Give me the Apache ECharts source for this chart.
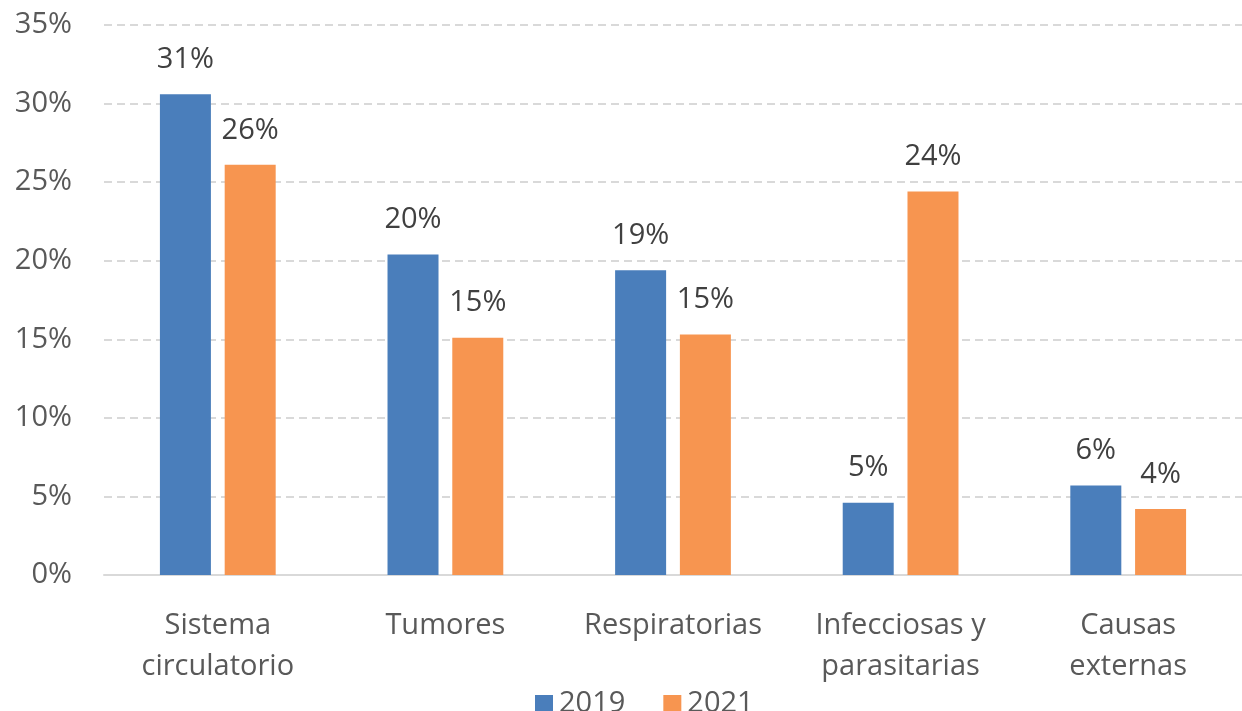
<!DOCTYPE html>
<html><head><meta charset="utf-8">
<script src="https://cdn.jsdelivr.net/npm/echarts@6/dist/echarts.min.js"></script>
<style>html,body{margin:0;padding:0;background:#fff}#c{width:1242px;height:711px}</style>
</head><body><div id="c"></div>
<script>
const categories = ['Sistema\ncirculatorio', 'Tumores', 'Respiratorias', 'Infecciosas y\nparasitarias', 'Causas\nexternas'];
const series2019 = [30.6, 20.4, 19.4, 4.6, 5.7];
const series2021 = [26.1, 15.1, 15.3, 24.4, 4.2];
const yTicks = [0, 5, 10, 15, 20, 25, 30, 35];
const FONT = '"Open Sans", "Noto Sans", sans-serif';
const chart = echarts.init(document.getElementById('c'));
const lbl = {show: true, position: 'top', distance: 20, fontSize: 29, color: '#404040', fontFamily: FONT,
  formatter: p => Math.round(p.value) + '%'};
chart.setOption({
  animation: false,
  grid: {left: 104, right: 0, top: 25, bottom: 136},
  legend: {top: 684, left: 530, itemWidth: 18, itemHeight: 17, itemGap: 38, icon: 'rect',
    textStyle: {fontSize: 29, color: '#595959', fontFamily: FONT, padding: [0, 0, 0, 1]},
    data: ['2019', '2021']},
  xAxis: {type: 'category', data: categories,
    axisLine: {lineStyle: {color: '#d9d9d9', width: 2}}, axisTick: {show: false},
    axisLabel: {fontSize: 29, color: '#595959', fontFamily: FONT, margin: 30, lineHeight: 41, interval: 0}},
  yAxis: {type: 'value', min: 0, max: 35, interval: 5,
    axisLabel: {fontSize: 29, color: '#595959', fontFamily: FONT, margin: 32,
      formatter: v => yTicks.includes(v) ? v + '%' : ''},
    splitLine: {lineStyle: {color: '#d9d9d9', width: 2, type: [8, 5]}}},
  series: [
    {name: '2019', type: 'bar', data: series2019, barWidth: 51, barGap: '27%', itemStyle: {color: '#4A7EBB'}, label: lbl},
    {name: '2021', type: 'bar', data: series2021, barWidth: 51, itemStyle: {color: '#F79550'}, label: lbl}
  ]
});
</script></body></html>
